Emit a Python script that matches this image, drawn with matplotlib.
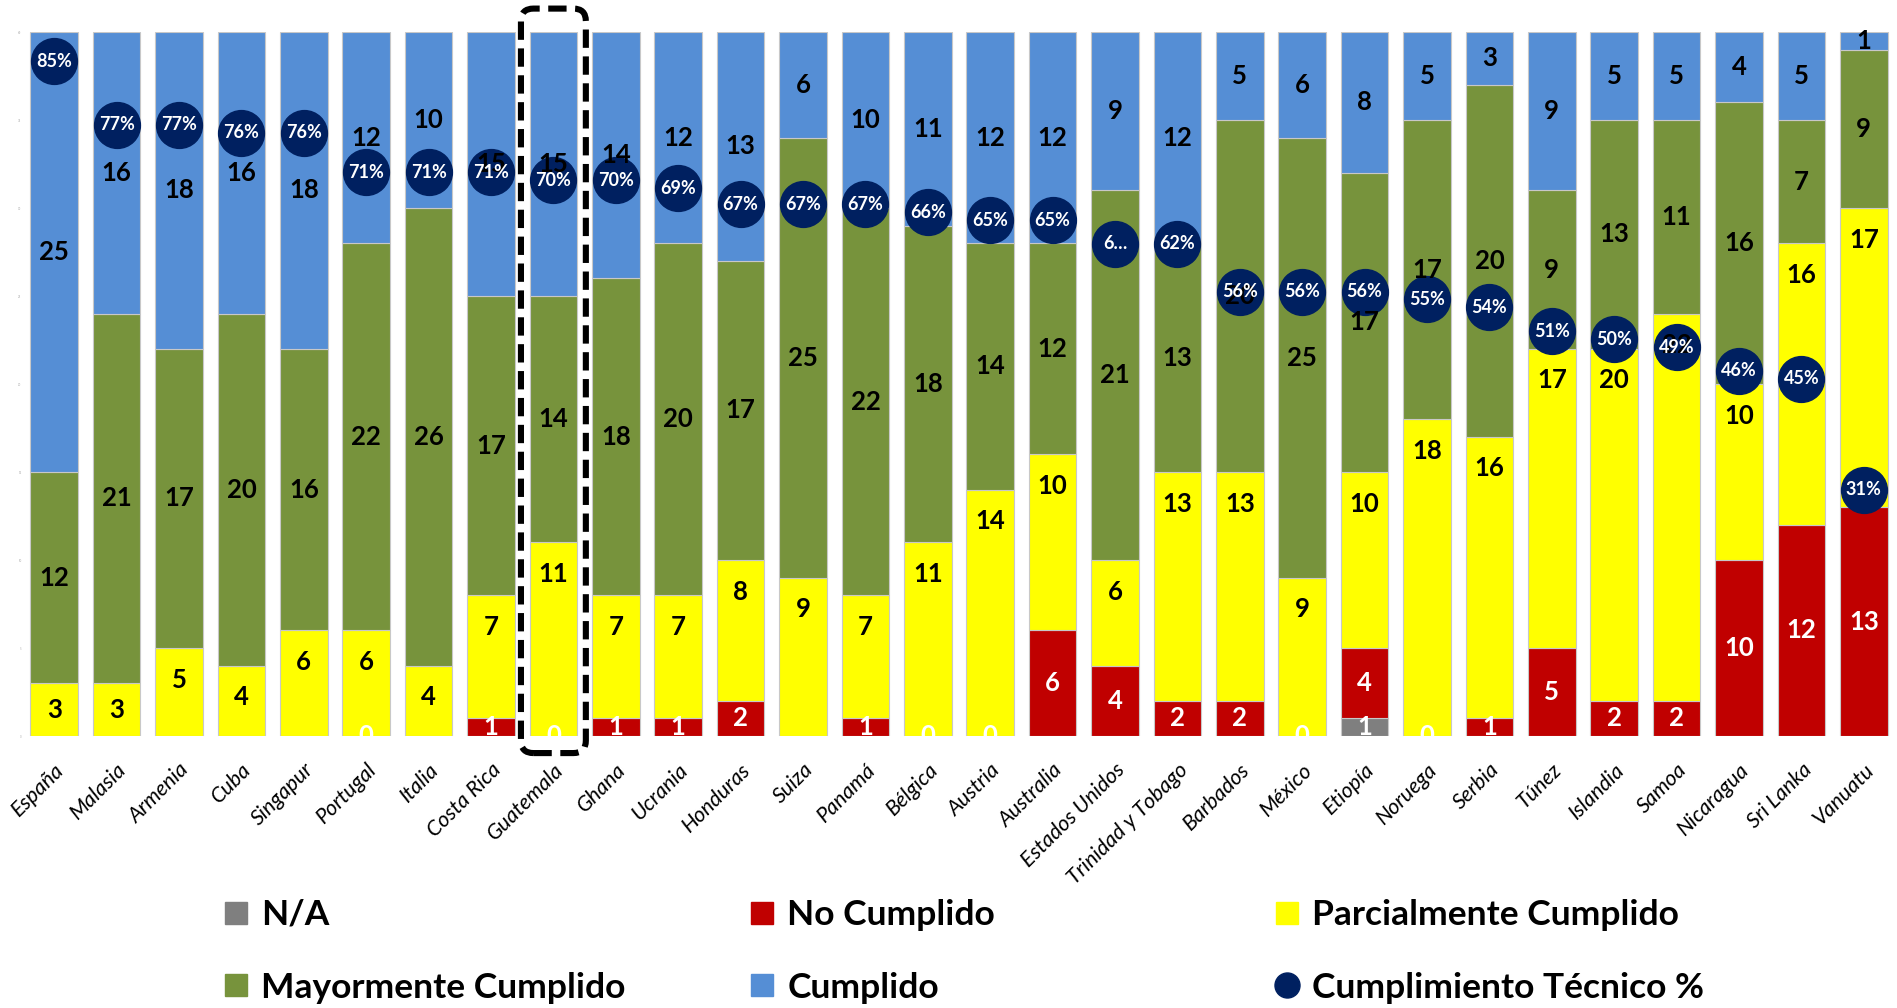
import numpy as np
import matplotlib.pyplot as plt
from matplotlib.lines import Line2D
from matplotlib.patches import FancyBboxPatch

plt.rcParams['font.family'] = ['Lato', 'DejaVu Sans']

# Data
countries = ["España", "Malasia", "Armenia", "Cuba", "Singapur", "Portugal", "Italia",
             "Costa Rica", "Guatemala", "Ghana", "Ucrania", "Honduras", "Suiza", "Panamá",
             "Bélgica", "Austria", "Australia", "Estados Unidos", "Trinidad y Tobago",
             "Barbados", "México", "Etiopía", "Noruega", "Serbia", "Túnez", "Islandia",
             "Samoa", "Nicaragua", "Sri Lanka", "Vanuatu"]
na = [0, 0, 0, 0, 0, 0, 0, 0, 0, 0, 0, 0, 0, 0, 0, 0, 0, 0, 0, 0, 0, 1, 0, 0, 0, 0, 0, 0, 0, 0]
no_cumplido = [0, 0, 0, 0, 0, 0, 0, 1, 0, 1, 1, 2, 0, 1, 0, 0, 6, 4, 2, 2, 0, 4, 0, 1, 5, 2, 2, 10, 12, 13]
parcial = [3, 3, 5, 4, 6, 6, 4, 7, 11, 7, 7, 8, 9, 7, 11, 14, 10, 6, 13, 13, 9, 10, 18, 16, 17, 20, 22, 10, 16, 17]
mayor = [12, 21, 17, 20, 16, 22, 26, 17, 14, 18, 20, 17, 25, 22, 18, 14, 12, 21, 13, 20, 25, 17, 17, 20, 9, 13, 11, 16, 7, 9]
cumplido = [25, 16, 18, 16, 18, 12, 10, 15, 15, 14, 12, 13, 6, 10, 11, 12, 12, 9, 12, 5, 6, 8, 5, 3, 9, 5, 5, 4, 5, 1]
cumplimiento = [0.85, 0.77, 0.77, 0.76, 0.76, 0.71, 0.71, 0.71, 0.70, 0.70, 0.69, 0.67, 0.67, 0.67, 0.66,
                0.65, 0.65, 0.62, 0.62, 0.56, 0.56, 0.56, 0.55, 0.54, 0.51, 0.50, 0.49, 0.46, 0.45, 0.31]
pct_labels = ["85%", "77%", "77%", "76%", "76%", "71%", "71%", "71%", "70%", "70%", "69%", "67%", "67%",
              "67%", "66%", "65%", "65%", "6…", "62%", "56%", "56%", "56%", "55%", "54%", "51%", "50%",
              "49%", "46%", "45%", "31%"]
zero_shown = ["Portugal", "Guatemala", "Bélgica", "Austria", "México", "Noruega"]
highlight = "Guatemala"

series = [
    ("N/A", na, "#7F7F7F", "white"),
    ("No Cumplido", no_cumplido, "#C00000", "white"),
    ("Parcialmente Cumplido", parcial, "#FFFF00", "black"),
    ("Mayormente Cumplido", mayor, "#77933C", "black"),
    ("Cumplido", cumplido, "#558ED5", "black"),
]
dot_color = "#002060"

W, H = 1897, 1008
fig = plt.figure(figsize=(W / 100, H / 100), dpi=100)
ax = fig.add_axes([23 / W, (H - 736) / H, 1872 / W, 704 / H])
ax2 = ax.twinx()

x = np.arange(len(countries))
bottom = np.zeros(len(countries))
label_jobs = []
for name, vals, color, tcolor in series:
    vals = np.array(vals, dtype=float)
    ax.bar(x, vals, 0.76, bottom=bottom, color=color, edgecolor="#C8C8C8", linewidth=0.8, label=name)
    for i, v in enumerate(vals):
        if v > 0:
            if name == "Parcialmente Cumplido":
                yy = bottom[i] + max(v / 2, v - 1.8)
            else:
                yy = bottom[i] + v / 2
            label_jobs.append((i, yy, str(int(v)), tcolor))
        elif name == "No Cumplido" and countries[i] in zero_shown:
            label_jobs.append((i, bottom[i], "0", "white"))
    bottom += vals

ax.set_xlim(-0.5, len(countries) - 0.5)
ax.set_ylim(0, 40)
ax.set_yticks(np.arange(0, 41, 5))
ax.tick_params(axis="y", length=0, labelsize=2, labelcolor="#AAAAAA", pad=1)
ax.set_xticks(x)
ax.set_xticklabels(countries, rotation=45, ha="right", rotation_mode="anchor",
                   fontsize=15.5, style="italic")
ax.tick_params(axis="x", length=0, pad=17)
for s in ax.spines.values():
    s.set_visible(False)

# secondary axis with the technical compliance dots
ax2.set_ylim(0, 0.887)
ax2.plot(x, cumplimiento, linestyle="none", marker="o", markersize=33, color=dot_color, zorder=2)
ax2.set_yticks([])
for s in ax2.spines.values():
    s.set_visible(False)

for i, yy, txt, tcolor in label_jobs:
    ax2.text(i, yy, txt, transform=ax.transData, ha="center", va="center",
             fontsize=18.5, fontweight="bold", color=tcolor, zorder=3)
for i, p in enumerate(cumplimiento):
    ax2.text(i, p, pct_labels[i], ha="center", va="center", fontsize=13,
             fontweight="bold", color="white", zorder=4)

# dashed highlight box
hi = countries.index(highlight)
box = FancyBboxPatch((hi - 0.52, -0.97), 1.04, 42.3,
                     boxstyle="round,pad=0,rounding_size=0.2", mutation_aspect=3.55,
                     fill=False, edgecolor="black", linewidth=4.4,
                     linestyle=(0, (3, 1.4)), clip_on=False, zorder=5)
ax2.add_patch(box)
box.set_transform(ax.transData)

# legend in three columns
def handle(color, marker="s", ms=16):
    return Line2D([], [], linestyle="none", marker=marker, markersize=ms,
                  markerfacecolor=color, markeredgecolor=color)

cols = [
    [("N/A", handle("#7F7F7F")), ("Mayormente Cumplido", handle("#77933C"))],
    [("No Cumplido", handle("#C00000")), ("Cumplido", handle("#558ED5"))],
    [("Parcialmente Cumplido", handle("#FFFF00")), ("Cumplimiento Técnico %", handle(dot_color, "o", 18))],
]
col_x = [224, 750, 1275]
for cx, entries in zip(col_x, cols):
    fig.legend([e[1] for e in entries], [e[0] for e in entries],
               loc="upper left", bbox_to_anchor=(cx / W, 1 - 899 / H),
               frameon=False, prop={"weight": "bold", "size": 25.5},
               handlelength=0.7, handletextpad=0.35, labelspacing=1.15,
               borderpad=0, borderaxespad=0)

fig.savefig("out.png", dpi=100)
